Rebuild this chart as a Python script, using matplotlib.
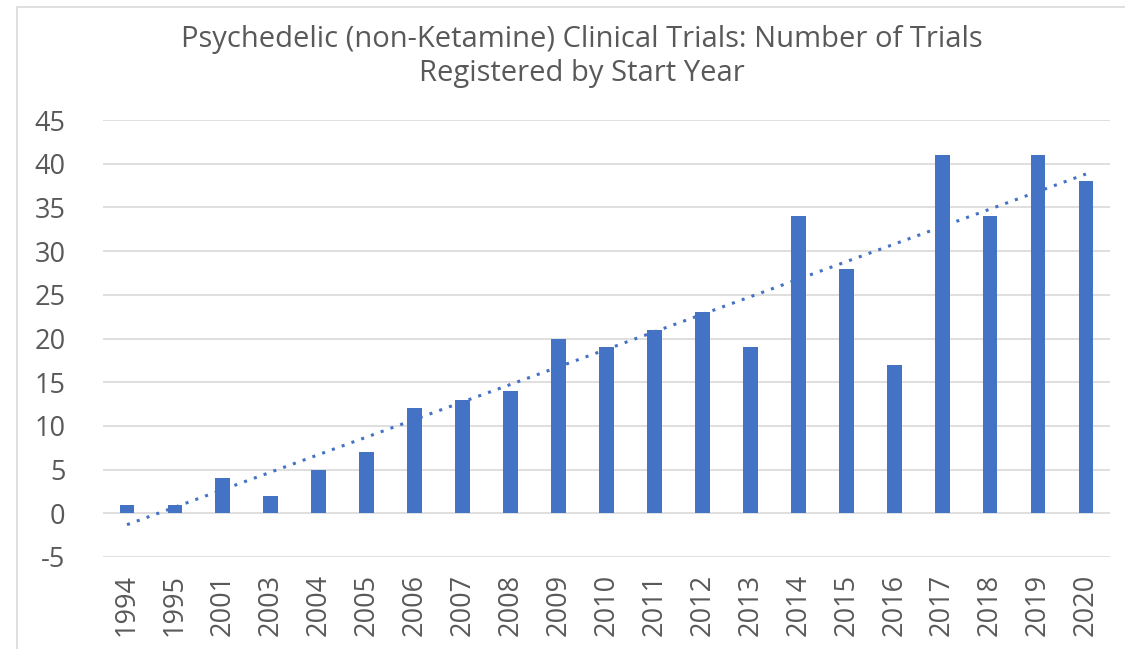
import numpy as np
import matplotlib.pyplot as plt
from matplotlib.patches import Rectangle

plt.rcParams["axes.unicode_minus"] = False

# Trials registered per start year
years = ["1994", "1995", "2001", "2003", "2004", "2005", "2006", "2007", "2008", "2009",
         "2010", "2011", "2012", "2013", "2014", "2015", "2016", "2017", "2018", "2019", "2020"]
trials = [1, 1, 4, 2, 5, 7, 12, 13, 14, 20, 19, 21, 23, 19, 34, 28, 17, 41, 34, 41, 38]
y_ticks = [-5, 0, 5, 10, 15, 20, 25, 30, 35, 40, 45]
title_lines = ["Psychedelic (non-Ketamine) Clinical Trials: Number of Trials",
               "Registered by Start Year"]

BLUE = "#4472C4"
GREY = "#595959"

fig = plt.figure(figsize=(11.25, 6.49), dpi=100)
ax = fig.add_axes([0.0916, 0.1418, 0.895, 0.6732])

x = np.arange(len(years))
ax.bar(x, trials, width=0.31, color=BLUE, zorder=3)

# linear trendline
coef = np.polyfit(x, trials, 1)
ax.plot(x, np.polyval(coef, x), linestyle=(0, (1, 2.4)), color=BLUE, lw=2.2, zorder=4)

ax.set_xlim(-0.5, len(years) - 0.5)
ax.set_ylim(-5, 45)
ax.set_yticks(y_ticks)
ax.set_xticks(x)
ax.set_xticklabels(years, rotation=90)
ax.grid(axis="y", color="#d9d9d9", lw=1.2, zorder=0)
for s in ax.spines.values():
    s.set_visible(False)
ax.tick_params(length=0, labelsize=19.5, colors=GREY)
ax.tick_params(axis="y", pad=27)
ax.tick_params(axis="x", pad=12)
for lbl in ax.get_xticklabels() + ax.get_yticklabels():
    lbl.set_fontfamily("Open Sans")

fig.text(0.517, 1 - 39 / 649, title_lines[0], ha="center", va="center",
         fontsize=21, color=GREY, family="Open Sans")
fig.text(0.517, 1 - 73 / 649, title_lines[1], ha="center", va="center",
         fontsize=21, color=GREY, family="Open Sans")

# chart area border
fig.add_artist(Rectangle((17 / 1125, -0.1), 1.2, 1 - 7 / 649 + 0.1, transform=fig.transFigure,
                         fill=False, edgecolor="#d9d9d9", lw=1.2))

fig.savefig("out.png", dpi=100, facecolor="white")
